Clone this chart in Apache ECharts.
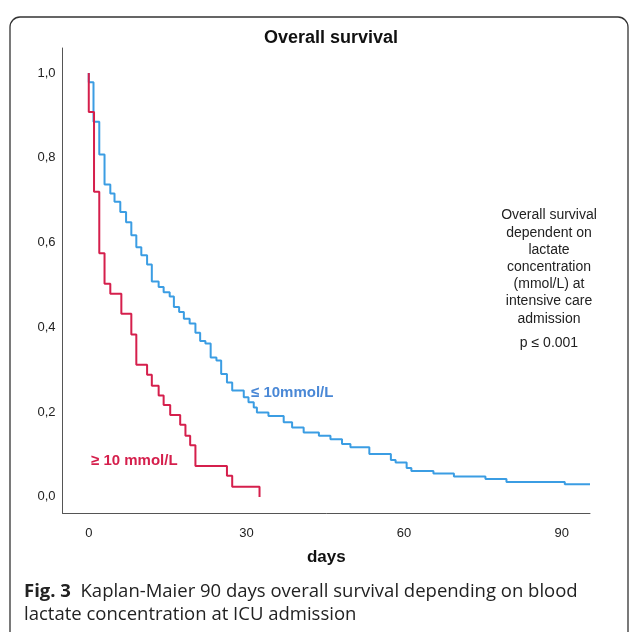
<!DOCTYPE html>
<html>
<head>
<meta charset="utf-8">
<script src="https://cdn.jsdelivr.net/npm/echarts@6/dist/echarts.min.js"></script>
<style>
  html, body { margin: 0; padding: 0; background: #fff; }
  #main { width: 630px; height: 632px; }
</style>
</head>
<body>
<div id="main"></div>
<script>
  // Kaplan-Meier steps: day of the drop and survival after the drop
  var lowDays = [0, 0, 0.9, 2.0, 3.0, 4.1, 4.9, 6.0, 7.1, 8.1, 9.05, 10.0, 11.1, 12.0, 13.3, 14.25, 15.4, 16.2, 17.2, 18.1, 19.2, 20.3, 21.2, 22.2, 23.2, 24.3, 25.2, 26.3, 27.3, 29.5, 30.4, 31.4, 32.0, 34.2, 37.1, 38.7, 40.9, 43.8, 46.0, 48.2, 49.8, 53.4, 57.5, 58.4, 60.5, 61.4, 65.6, 69.5, 75.5, 79.5, 90.6, 95.4];
  var lowSurv = [1.0, 0.978, 0.885, 0.808, 0.737, 0.716, 0.696, 0.672, 0.648, 0.617, 0.589, 0.570, 0.548, 0.508, 0.495, 0.483, 0.473, 0.448, 0.436, 0.420, 0.409, 0.387, 0.368, 0.362, 0.329, 0.322, 0.290, 0.270, 0.251, 0.235, 0.223, 0.211, 0.199, 0.191, 0.176, 0.164, 0.152, 0.144, 0.136, 0.125, 0.117, 0.101, 0.087, 0.081, 0.068, 0.061, 0.055, 0.048, 0.042, 0.035, 0.030, 0.030];

  var highDays = [0, 0, 1.0, 2.0, 3.0, 4.1, 6.2, 8.1, 9.05, 11.1, 12.0, 13.3, 14.25, 15.5, 17.4, 18.4, 19.3, 20.3, 26.3, 27.3, 32.5];
  var highSurv = [1.0, 0.908, 0.720, 0.575, 0.503, 0.479, 0.432, 0.383, 0.312, 0.288, 0.262, 0.239, 0.217, 0.193, 0.170, 0.144, 0.122, 0.073, 0.050, 0.024, 0.0];

  var xTicks = [0, 30, 60, 90];
  var yTicks = [0, 0.2, 0.4, 0.6, 0.8, 1.0];

  var noteLines = ['Overall survival', 'dependent on', 'lactate', 'concentration', '(mmol/L) at', 'intensive care', 'admission'];

  function pairs(xs, ys) {
    var out = [];
    for (var i = 0; i < xs.length; i++) {
      out.push([xs[i], ys[i]]);
    }
    return out;
  }

  var myChart = echarts.init(document.getElementById('main'));

  var textFont = '"Liberation Sans", Arial, sans-serif';

  var option = {
    animation: false,
    grid: { left: 62.5, top: 48, right: 40, bottom: 119 },
    xAxis: {
      type: 'value',
      min: -5,
      max: 95.4,
      name: 'days',
      nameLocation: 'middle',
      nameGap: 36,
      nameTextStyle: { fontFamily: textFont, fontSize: 17, fontWeight: 'bold', color: '#111' },
      axisLine: { onZero: false, lineStyle: { color: '#555', width: 1 } },
      axisTick: { show: false },
      splitLine: { show: false },
      axisLabel: {
        customValues: xTicks,
        margin: 14,
        fontFamily: textFont,
        fontSize: 13,
        color: '#222'
      }
    },
    yAxis: {
      type: 'value',
      min: -0.038,
      max: 1.059,
      axisLine: { show: true, onZero: false, lineStyle: { color: '#555', width: 1 } },
      axisTick: { show: false },
      splitLine: { show: false },
      axisLabel: {
        customValues: yTicks,
        margin: 7,
        fontFamily: textFont,
        fontSize: 13,
        color: '#222',
        formatter: function (v) { return v.toFixed(1).replace('.', ','); }
      }
    },
    series: [
      {
        name: '≤ 10mmol/L',
        type: 'line',
        step: 'end',
        symbol: 'none',
        lineStyle: { color: '#3b9de3', width: 2 },
        data: pairs(lowDays, lowSurv)
      },
      {
        name: '≥ 10 mmol/L',
        type: 'line',
        step: 'end',
        symbol: 'none',
        lineStyle: { color: '#d51f4c', width: 2 },
        data: pairs(highDays, highSurv)
      }
    ],
    graphic: [
      {
        type: 'rect',
        shape: { x: 10, y: 17, width: 618, height: 640, r: 10 },
        style: { fill: 'none', stroke: '#333', lineWidth: 1.3 },
        silent: true
      },
      {
        type: 'text',
        x: 331, y: 29,
        style: { text: 'Overall survival', font: 'bold 18px "Liberation Sans", Arial', fill: '#111', align: 'center' }
      },
      {
        type: 'text',
        left: 251, top: 385,
        style: { text: '≤ 10mmol/L', font: 'bold 15px "Liberation Sans", Arial', fill: '#4a88d6' }
      },
      {
        type: 'text',
        left: 91, top: 453,
        style: { text: '≥ 10 mmol/L', font: 'bold 15px "Liberation Sans", Arial', fill: '#d51f4c' }
      },
      {
        type: 'text',
        x: 549, y: 207,
        style: { text: noteLines.join('\n'), font: '14px "Liberation Sans", Arial', lineHeight: 17.2, fill: '#222', align: 'center' }
      },
      {
        type: 'text',
        x: 549, y: 336,
        style: { text: 'p ≤ 0.001', font: '14px "Liberation Sans", Arial', fill: '#222', align: 'center' }
      },
      {
        type: 'text',
        x: 24, y: 580,
        style: {
          text: '{b|Fig. 3}  Kaplan-Maier 90 days overall survival depending on blood\nlactate concentration at ICU admission',
          font: '18.5px "Open Sans", sans-serif',
          lineHeight: 23,
          fill: '#222',
          rich: {
            b: { font: 'bold 18.5px "Open Sans", sans-serif', fill: '#222' }
          }
        }
      }
    ]
  };

  myChart.setOption(option);
</script>
</body>
</html>
